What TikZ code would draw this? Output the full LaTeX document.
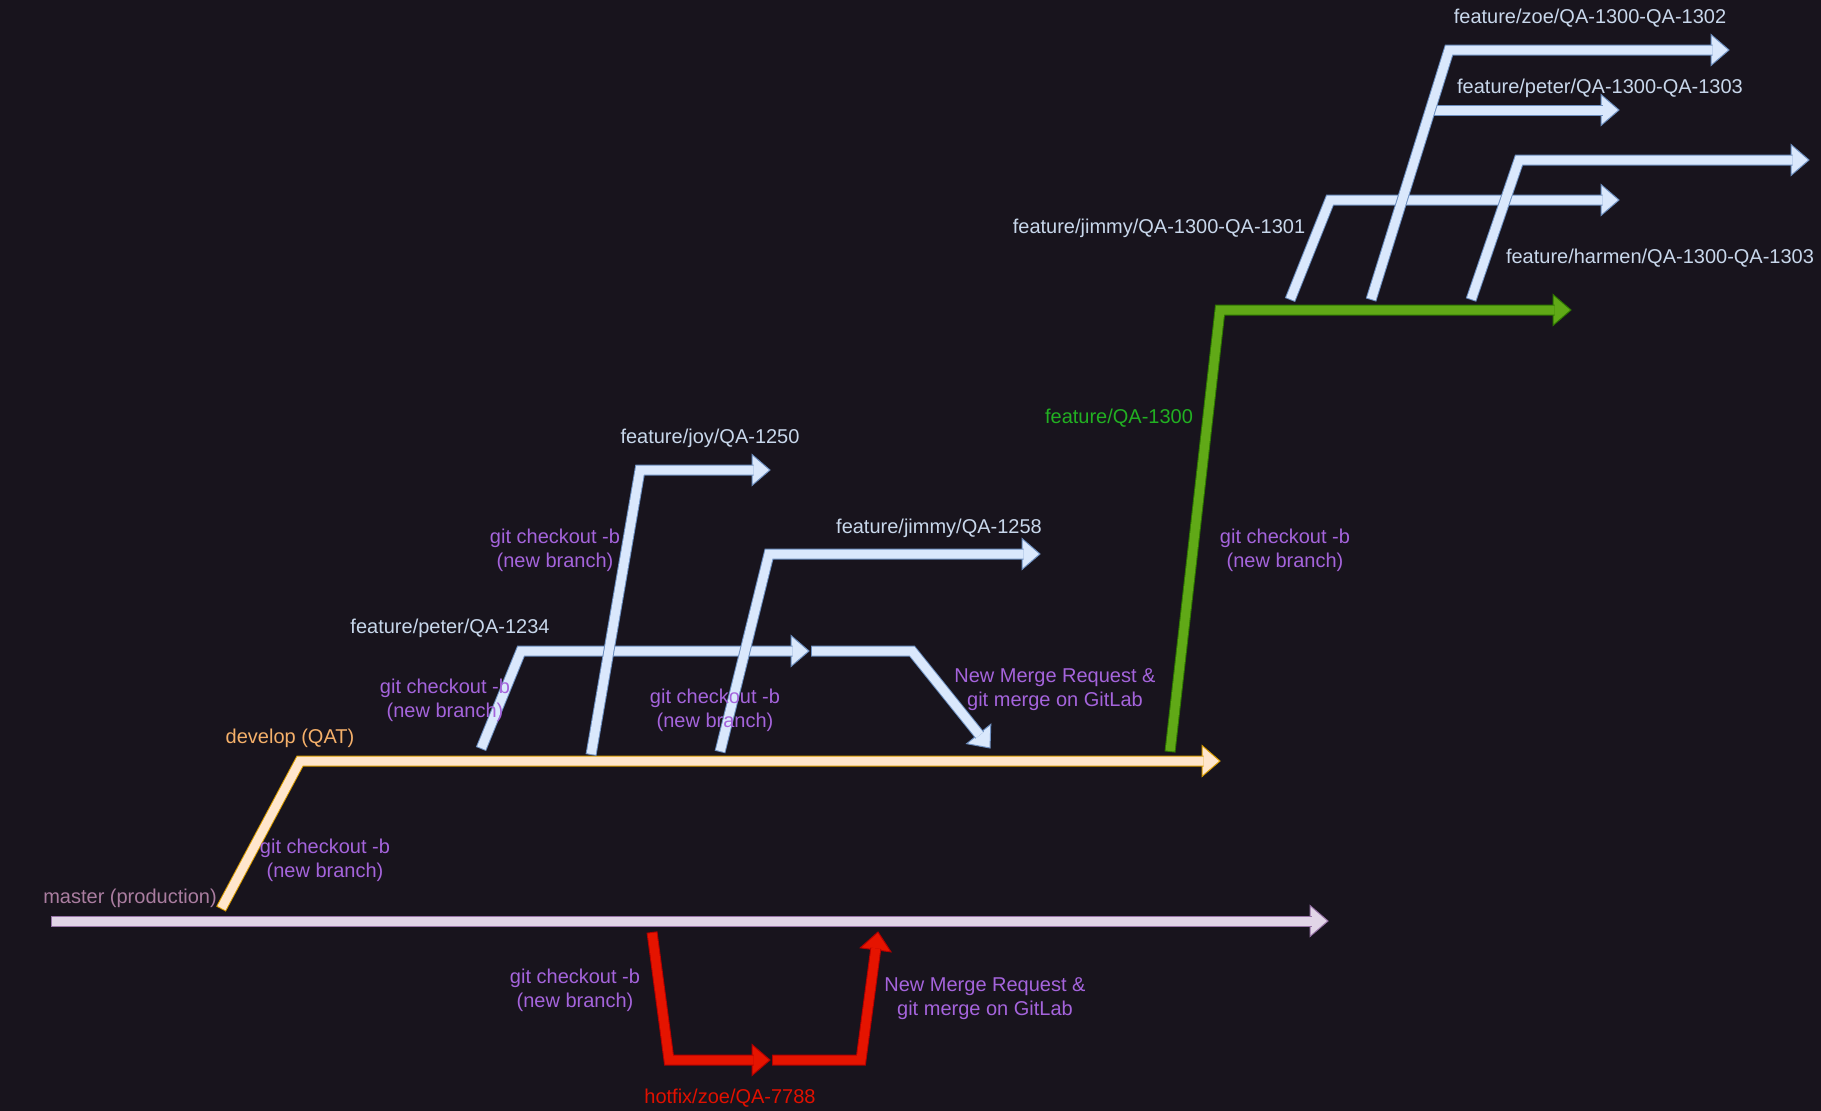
\documentclass[tikz,border=0pt]{standalone}
\usepackage{fontspec}
\setmainfont{Liberation Sans}
\usetikzlibrary{calc}
\definecolor{bg}{HTML}{18141D}
\definecolor{mfill}{HTML}{E1D5E7}\definecolor{mline}{HTML}{9673A6}
\definecolor{dfill}{HTML}{FFE6CC}\definecolor{dline}{HTML}{D79B00}
\definecolor{bfill}{HTML}{DAE8FC}\definecolor{bline}{HTML}{6C8EBF}
\definecolor{gfill}{HTML}{60A917}\definecolor{gline}{HTML}{2D7600}
\definecolor{rfill}{HTML}{E51400}\definecolor{rline}{HTML}{B20000}
\definecolor{mtxt}{HTML}{AA7DA0}
\definecolor{dtxt}{HTML}{F5B06A}
\definecolor{ptxt}{HTML}{A564DC}
\definecolor{btxt}{HTML}{C8D7EB}
\definecolor{gtxt}{HTML}{22B022}
\definecolor{rtxt}{HTML}{E01000}
\newcommand\ahead[4]{%
  \coordinate (#4-b) at ($(#4)!18pt!(#3)$);
  \coordinate (#4-e) at ($(#4)!16.5pt!(#3)$);
  \filldraw[fill=#1,draw=#2,line width=1pt,line join=miter] (#4) -- ($(#4-b)!15.5pt!90:(#4)$) -- ($(#4-b)!15.5pt!-90:(#4)$) -- cycle;}
\newcommand\abody[3]{%
  \draw[draw=#2,line width=11pt,line join=miter] #3;
  \draw[draw=#1,line width=9pt,line join=miter,shorten <=1pt] #3;}
\begin{document}
\begin{tikzpicture}[x=1pt,y=-1pt,
  lbl/.style={font=\fontsize{20}{23.8}\selectfont, inner sep=0pt, align=center}]
\fill[bg] (0,0) rectangle (1821,1111);
\useasboundingbox (0,0) rectangle (1821,1111);
% coordinates
\coordinate (ms) at (51,921);   \coordinate (mt) at (1328,921);
\coordinate (ds) at (221,909);  \coordinate (dc) at (300,761);  \coordinate (dt) at (1220,761);
\coordinate (r1s) at (652,932); \coordinate (r1c) at (669,1060); \coordinate (r1t) at (770,1060);
\coordinate (r2s) at (772,1060); \coordinate (r2c) at (861,1060); \coordinate (r2t) at (878,932);
\coordinate (ps) at (481,749);  \coordinate (pc) at (521,651);  \coordinate (pt) at (809,651);
\coordinate (qs) at (811,651);  \coordinate (qc) at (912,651);  \coordinate (qt) at (990,748);
\coordinate (js) at (591,755);  \coordinate (jc) at (640,470);  \coordinate (jt) at (770,470);
\coordinate (ks) at (720,752);  \coordinate (kc) at (769,554);  \coordinate (kt) at (1040,554);
\coordinate (gs) at (1170,752); \coordinate (gc) at (1220,310); \coordinate (gt) at (1571,310);
\coordinate (j1s) at (1290,300); \coordinate (j1c) at (1330,200); \coordinate (j1t) at (1619,200);
\coordinate (p3s) at (1431,110); \coordinate (p3t) at (1619,110);
\coordinate (zs) at (1371,300); \coordinate (zc) at (1449,50);  \coordinate (zt) at (1729,50);
\coordinate (hs) at (1471,300); \coordinate (hc) at (1519,160); \coordinate (ht) at (1809,160);
% master
\ahead{mfill}{mline}{ms}{mt}
\abody{mfill}{mline}{(ms) -- (mt-e)}
% develop
\ahead{dfill}{dline}{dc}{dt}
\abody{dfill}{dline}{(ds) -- (dc) -- (dt-e)}
% hotfix
\ahead{rfill}{rline}{r1c}{r1t}
\abody{rfill}{rline}{(r1s) -- (r1c) -- (r1t-e)}
\ahead{rfill}{rline}{r2c}{r2t}
\abody{rfill}{rline}{(r2s) -- (r2c) -- (r2t-e)}
% feature/peter/QA-1234
\ahead{bfill}{bline}{pc}{pt}
\abody{bfill}{bline}{(ps) -- (pc) -- (pt-e)}
\ahead{bfill}{bline}{qc}{qt}
\abody{bfill}{bline}{(qs) -- (qc) -- (qt-e)}
% feature/joy
\ahead{bfill}{bline}{jc}{jt}
\abody{bfill}{bline}{(js) -- (jc) -- (jt-e)}
% feature/jimmy/QA-1258
\ahead{bfill}{bline}{kc}{kt}
\abody{bfill}{bline}{(ks) -- (kc) -- (kt-e)}
% feature/QA-1300
\ahead{gfill}{gline}{gc}{gt}
\abody{gfill}{gline}{(gs) -- (gc) -- (gt-e)}
% sub features
\ahead{bfill}{bline}{j1c}{j1t}
\abody{bfill}{bline}{(j1s) -- (j1c) -- (j1t-e)}
\ahead{bfill}{bline}{p3s}{p3t}
\abody{bfill}{bline}{(p3s) -- (p3t-e)}
\ahead{bfill}{bline}{zc}{zt}
\abody{bfill}{bline}{(zs) -- (zc) -- (zt-e)}
\ahead{bfill}{bline}{hc}{ht}
\abody{bfill}{bline}{(hs) -- (hc) -- (ht-e)}
% labels
\node[lbl,text=mtxt] (lmaster) at (130,898.5) {master (production)};
\node[lbl,text=dtxt] (ldev) at (290,738.5) {develop (QAT)};
\node[lbl,text=ptxt] (lgc1) at (325,860) {git checkout -b\\(new branch)};
\node[lbl,text=ptxt] (lgc2) at (445,700) {git checkout -b\\(new branch)};
\node[lbl,text=ptxt] (lgc3) at (555,550) {git checkout -b\\(new branch)};
\node[lbl,text=ptxt] (lgc4) at (715,710) {git checkout -b\\(new branch)};
\node[lbl,text=ptxt] (lgc5) at (1285,550) {git checkout -b\\(new branch)};
\node[lbl,text=ptxt] (lgc6) at (575,990) {git checkout -b\\(new branch)};
\node[lbl,text=ptxt] (lmr1) at (1055,690) {New Merge Request \&\\git merge on GitLab};
\node[lbl,text=ptxt] (lmr2) at (985,999) {New Merge Request \&\\git merge on GitLab};
\node[lbl,text=btxt] (lpeter) at (450,628.5) {feature/peter/QA-1234};
\node[lbl,text=btxt] (ljoy) at (710,438.5) {feature/joy/QA-1250};
\node[lbl,text=btxt] (ljim) at (939,528.5) {feature/jimmy/QA-1258};
\node[lbl,text=gtxt] (lqa) at (1119,418.5) {feature/QA-1300};
\node[lbl,text=btxt] (lj1) at (1159,228.5) {feature/jimmy/QA-1300-QA-1301};
\node[lbl,text=btxt] (lz) at (1590,18) {feature/zoe/QA-1300-QA-1302};
\node[lbl,text=btxt] (lp3) at (1600,88.5) {feature/peter/QA-1300-QA-1303};
\node[lbl,text=btxt] (lh) at (1660,258.5) {feature/harmen/QA-1300-QA-1303};
\node[lbl,text=rtxt] (lhot) at (730,1098) {hotfix/zoe/QA-7788};
\end{tikzpicture}
\end{document}
